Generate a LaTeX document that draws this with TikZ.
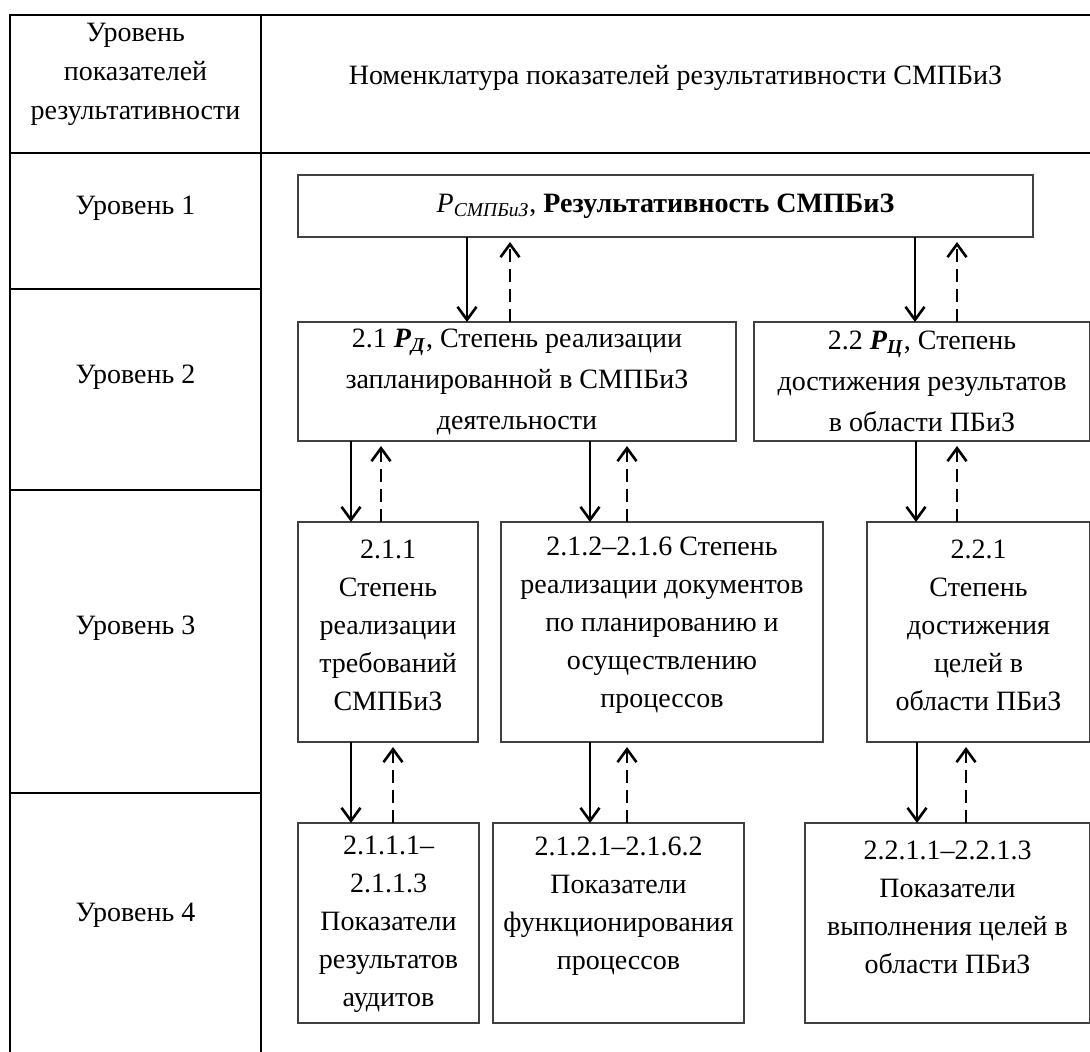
\documentclass[tikz,border=0pt]{standalone}
\usepackage{fontspec}
\setmainfont{Liberation Serif}
\usetikzlibrary{arrows.meta}
\tikzset{
  tbl/.style={line width=1pt, black},
  bx/.style={draw=black!75, line width=0.6pt, inner sep=0pt, outer sep=0pt, align=center},
  txt/.style={inner sep=0pt, align=center},
  solidarr/.style={-{Straight Barb[length=6.5pt,width=9.5pt,line width=1.3pt]}, line width=1.3pt, black},
  dasharr/.style={-{Straight Barb[length=6.5pt,width=9.5pt,line width=1.3pt]}, line width=1.3pt, black,
    dash pattern=on 6.5pt off 3.5pt, shorten >=2.5pt},
}
\begin{document}
\begin{tikzpicture}[x=0.5pt,y=-0.5pt, font=\fontsize{14}{19}\selectfont]
\useasboundingbox (0,0) rectangle (1090,1052);
% table grid
\draw[tbl] (10,1052) -- (10,15) -- (1090,15);
\draw[tbl] (261,15) -- (261,1052);
\draw[tbl] (10,153) -- (1090,153);
\draw[tbl] (10,289) -- (261,289);
\draw[tbl] (10,490) -- (261,490);
\draw[tbl] (10,793) -- (261,793);
% header texts
\node[txt, font=\fontsize{14}{19.5}\selectfont] (h1) at (135.5,74) {Уровень\\показателей\\результативности};
\node[txt] (h2) at (675.5,78) {Номенклатура показателей результативности СМПБиЗ};
\node[txt] (lv1) at (135.5,208) {Уровень 1};
\node[txt] (lv2) at (135.5,377) {Уровень 2};
\node[txt] (lv3) at (135.5,628) {Уровень 3};
\node[txt] (lv4) at (135.5,915) {Уровень 4};
% boxes
\node[bx, minimum width=367.5pt, minimum height=31pt] (L1) at (665.5,206)
  {\textit{P}\textsubscript{\textit{СМПБиЗ}}, \textbf{Результативность СМПБиЗ}};
\node[bx, minimum width=219pt, minimum height=59.5pt, font=\fontsize{14}{20.5}\selectfont] (B21) at (517,381.5)
  {2.1 \textbf{\textit{P}}\textsubscript{\textbf{\textit{Д}}}, Степень реализации\\запланированной в СМПБиЗ\\деятельности};
\node[bx, minimum width=168pt, minimum height=59.5pt, font=\fontsize{14}{20.5}\selectfont] (B22) at (922,381.5)
  {2.2 \textbf{\textit{P}}\textsubscript{\textbf{\textit{Ц}}}, Степень\\достижения результатов\\в области ПБиЗ};
\node[bx, minimum width=90pt, minimum height=110pt] (B211) at (388,632) {};
\node[bx, minimum width=161pt, minimum height=110pt] (B212) at (662,632) {};
\node[bx, minimum width=111.5pt, minimum height=110pt] (B221) at (978.5,632) {};
\node[bx, minimum width=90.5pt, minimum height=100pt] (B2111) at (388.5,923) {};
\node[bx, minimum width=125.5pt, minimum height=100pt] (B2121) at (618.5,923) {};
\node[bx, minimum width=142.5pt, minimum height=100pt] (B2211) at (947.5,923) {};
% box texts
\node[txt] (T211) at (388,625) {2.1.1\\Степень\\реализации\\требований\\СМПБиЗ};
\node[txt] (T212) at (662,625) {2.1.2–2.1.6 Степень\\реализации документов\\по планированию и\\осуществлению\\процессов};
\node[txt] (T221) at (978.5,625) {2.2.1\\Степень\\достижения\\целей в\\области ПБиЗ};
\node[txt] (T2111) at (388.5,924) {2.1.1.1–\\2.1.1.3\\Показатели\\результатов\\аудитов};
\node[txt] (T2121) at (618.5,906) {2.1.2.1–2.1.6.2\\Показатели\\функционирования\\процессов};
\node[txt] (T2211) at (947.5,907) {2.2.1.1–2.2.1.3\\Показатели\\выполнения целей в\\области ПБиЗ};
% arrow x positions
\coordinate (a1) at (467,0);  \coordinate (d1) at (510,0);
\coordinate (a2) at (915,0);  \coordinate (d2) at (957,0);
\coordinate (a3) at (351,0);  \coordinate (d3) at (381,0);
\coordinate (a4) at (590,0);  \coordinate (d4) at (627,0);
\coordinate (a5) at (916,0);  \coordinate (d5) at (957,0);
\coordinate (a6) at (351,0);  \coordinate (d6) at (393,0);
\coordinate (a7) at (590,0);  \coordinate (d7) at (627,0);
\coordinate (a8) at (917,0);  \coordinate (d8) at (966,0);
% arrows
\draw[solidarr] (L1.south -| a1) -- (B21.north -| a1);
\draw[dasharr] (B21.north -| d1) -- (L1.south -| d1);
\draw[solidarr] (L1.south -| a2) -- (B22.north -| a2);
\draw[dasharr] (B22.north -| d2) -- (L1.south -| d2);
\draw[solidarr] (B21.south -| a3) -- (B211.north -| a3);
\draw[dasharr] (B211.north -| d3) -- (B21.south -| d3);
\draw[solidarr] (B21.south -| a4) -- (B212.north -| a4);
\draw[dasharr] (B212.north -| d4) -- (B21.south -| d4);
\draw[solidarr] (B22.south -| a5) -- (B221.north -| a5);
\draw[dasharr] (B221.north -| d5) -- (B22.south -| d5);
\draw[solidarr] (B211.south -| a6) -- (B2111.north -| a6);
\draw[dasharr] (B2111.north -| d6) -- (B211.south -| d6);
\draw[solidarr] (B212.south -| a7) -- (B2121.north -| a7);
\draw[dasharr] (B2121.north -| d7) -- (B212.south -| d7);
\draw[solidarr] (B221.south -| a8) -- (B2211.north -| a8);
\draw[dasharr] (B2211.north -| d8) -- (B221.south -| d8);
\end{tikzpicture}
\end{document}
